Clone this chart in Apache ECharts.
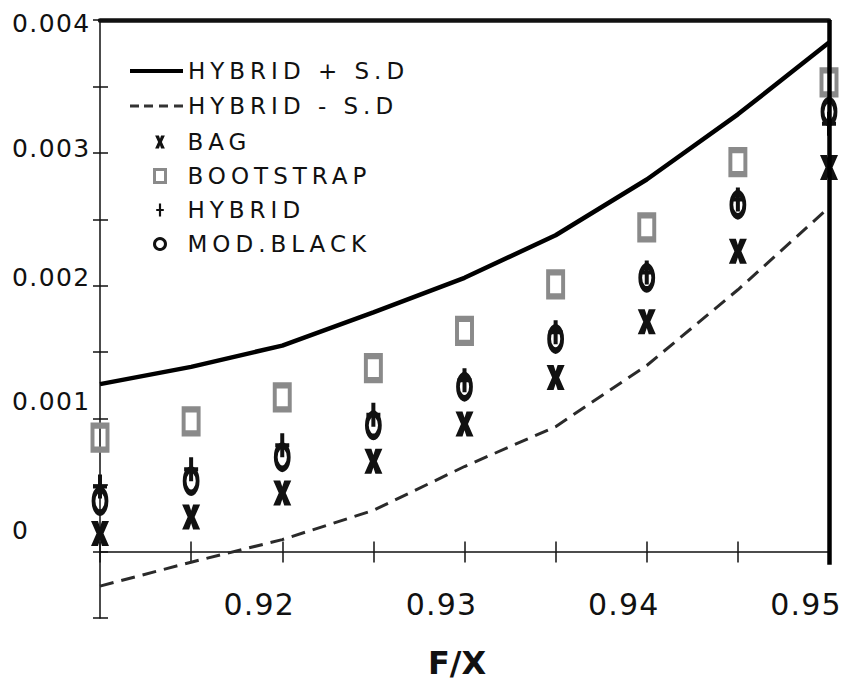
<!DOCTYPE html>
<html>
<head>
<meta charset="utf-8">
<script src="https://cdn.jsdelivr.net/npm/echarts@6/dist/echarts.min.js"></script>
<style>
  html, body { margin: 0; padding: 0; background: #fff; }
  #chart { width: 843px; height: 683px; }
</style>
</head>
<body>
<div id="chart"></div>
<script>
// F/X grid shared by every series
const fx = [0.91, 0.915, 0.92, 0.925, 0.93, 0.935, 0.94, 0.945, 0.95];

// Band around the hybrid estimate
const hybridPlusSD  = [0.00126, 0.00139, 0.00155, 0.00180, 0.00206, 0.00238, 0.00280, 0.00329, 0.00383];
const hybridMinusSD = [-0.00026, -0.00008, 0.00009, 0.00031, 0.00064, 0.00094, 0.00140, 0.00197, 0.00259];

// Point estimates
const bag       = [0.000135, 0.00026, 0.00044, 0.00068, 0.00096, 0.00131, 0.00173, 0.00226, 0.00289];
const bootstrap = [0.000857, 0.00098, 0.00116, 0.00138, 0.00166, 0.00201, 0.00244, 0.00293, 0.00353];
const hybrid    = [0.00049, 0.00062, 0.00080, 0.00103, 0.00129, 0.00165, 0.00210, 0.00265, 0.00322];
const modBlack  = [0.00038, 0.00053, 0.00071, 0.00095, 0.00124, 0.00160, 0.00206, 0.00261, 0.00331];

// Axis text
const xTickLabels = ['0.92', '0.93', '0.94', '0.95'];
const yTickLabels = ['0', '0.001', '0.002', '0.003', '0.004'];
const seriesNames = ['HYBRID + S.D', 'HYBRID - S.D', 'BAG', 'BOOTSTRAP', 'HYBRID', 'MOD.BLACK'];
const xTitle = 'F/X';

const X_MIN = 0.91, X_MAX = 0.95, X_STEP = 0.005;
const Y_MIN = -0.0005, Y_MAX = 0.004, Y_STEP = 0.0005;

const pairs = ys => fx.map((x, i) => [x, ys[i]]);

const FONT = 'DejaVu Sans';
const INK = '#111';
const GREY = '#8a8a8a';

const PLUS_PATH = 'path://M5,0 H9 V10 H14 V14 H9 V24 H5 V14 H0 V10 H5 Z';
const BAG_PATH = 'path://M0,0 H7 L9,6 L11,0 H18 L12.5,12 L18,24 H11 L9,18 L7,24 H0 L5.5,12 Z';
const SOLID_KEY = 'path://M0,0 H53 V4 H0 Z';
const DASH_KEY = 'path://M0,0.5 H9 V3.5 H0 Z M14,0.5 H23 V3.5 H14 Z M29,0.5 H38 V3.5 H29 Z M44,0.5 H53 V3.5 H44 Z';

function xLabel(v) {
  const k = v * 100;
  if (Math.abs(k - Math.round(k)) > 1e-6) return '';
  const s = v.toFixed(2);
  return xTickLabels.includes(s) ? s : '';
}

// Each value label sits a little off its tick; a blank companion line nudges it
const yNudge = ['up', 'up', 'up', 'up', 'down'];
function yLabel(v) {
  const k = v * 1000;
  if (Math.abs(k - Math.round(k)) > 1e-6) return '';
  const i = Math.round(k);
  if (yTickLabels[i] == null) return '';
  const t = '{o' + i + '|' + yTickLabels[i] + '}';
  const b = '{o' + i + '| }';
  return yNudge[i] === 'up' ? t + '\n' + b : b + '\n' + t;
}

const yLabelStyle = { fontFamily: FONT, fontSize: 25, color: INK };
const yRich = {
  o0: Object.assign({ lineHeight: 42 }, yLabelStyle),
  o1: Object.assign({ lineHeight: 34 }, yLabelStyle),
  o2: Object.assign({ lineHeight: 16 }, yLabelStyle),
  o3: Object.assign({ lineHeight: 8 }, yLabelStyle),
  o4: Object.assign({ lineHeight: 6 }, yLabelStyle)
};

const baseX = { type: 'value', min: X_MIN, max: X_MAX, interval: X_STEP, splitLine: { show: false } };
const baseY = { type: 'value', min: Y_MIN, max: Y_MAX, interval: Y_STEP, splitLine: { show: false } };

const chart = echarts.init(document.getElementById('chart'), null, { renderer: 'svg' });

chart.setOption({
  animation: false,
  backgroundColor: '#fff',
  grid: [
    { left: 100, right: 14, top: 20, bottom: 65, containLabel: false, outerBoundsMode: 'none' },
    // carries the F/X tick labels and title beneath the zero line
    { left: 100, right: 14, top: 20, bottom: 131, containLabel: false, outerBoundsMode: 'none' }
  ],
  xAxis: [
    Object.assign({}, baseX, {
      gridIndex: 0, position: 'bottom',
      axisLine: { onZero: true, onZeroAxisIndex: 0, lineStyle: { color: INK, width: 1.5 } },
      axisTick: { show: true, inside: false, length: 11, lineStyle: { color: INK, width: 1.5 } },
      axisLabel: { show: false }
    }),
    Object.assign({}, baseX, {
      gridIndex: 0, position: 'bottom',
      axisLine: { show: false, onZero: true, onZeroAxisIndex: 0 },
      axisTick: { show: true, inside: true, length: 10, lineStyle: { color: INK, width: 1.5 } },
      axisLabel: { show: false }
    }),
    Object.assign({}, baseX, {
      gridIndex: 0, position: 'top',
      axisLine: { show: true, onZero: false, lineStyle: { color: INK, width: 4.5 } },
      axisTick: { show: false },
      axisLabel: { show: false }
    }),
    Object.assign({}, baseX, {
      gridIndex: 1, position: 'bottom',
      axisLine: { show: false, onZero: false },
      axisTick: { show: false },
      axisLabel: {
        formatter: xLabel, margin: 37, fontFamily: FONT, fontSize: 30, color: INK,
        align: 'center', padding: [0, 46, 0, 0], showMinLabel: true, showMaxLabel: true
      },
      name: xTitle, nameLocation: 'middle', nameGap: 95, nameMoveOverlap: false,
      nameTextStyle: { fontFamily: FONT, fontSize: 32, fontWeight: 'bold', color: INK, padding: [0, 15, 0, 0] }
    })
  ],
  yAxis: [
    Object.assign({}, baseY, {
      gridIndex: 0, position: 'left',
      axisLine: { show: true, onZero: false, lineStyle: { color: INK, width: 1.5 } },
      axisTick: { show: true, inside: false, length: 7, lineStyle: { color: INK, width: 1.5 } },
      axisLabel: { formatter: yLabel, margin: 88, align: 'left', rich: yRich, fontFamily: FONT, fontSize: 25, color: INK }
    }),
    Object.assign({}, baseY, {
      gridIndex: 0, position: 'left', offset: 0,
      axisLine: { show: false, onZero: false },
      axisTick: { show: true, inside: true, length: 8, lineStyle: { color: INK, width: 1.5 } },
      axisLabel: { show: false }
    }),
    {
      gridIndex: 1, type: 'value', min: 0, max: 1, show: false
    }
  ],
  legend: [
    {
      orient: 'vertical', left: 130, top: 59, padding: 0,
      itemWidth: 53, itemHeight: 4, itemGap: 11, selectedMode: false,
      textStyle: { fontFamily: FONT, fontSize: 23, color: INK, lineHeight: 24 },
      data: [
        { name: seriesNames[0], icon: SOLID_KEY, itemStyle: { color: '#000', borderWidth: 0 } },
        { name: seriesNames[1], icon: DASH_KEY, itemStyle: { color: '#333', borderWidth: 0 } }
      ]
    },
    {
      orient: 'vertical', left: 153, top: 130, padding: 0,
      itemWidth: 11, itemHeight: 13, itemGap: 10, selectedMode: false,
      textStyle: { fontFamily: FONT, fontSize: 23, color: INK, lineHeight: 24, padding: [0, 0, 0, 17] },
      data: [
        { name: seriesNames[2], icon: BAG_PATH, itemStyle: { color: INK, borderWidth: 0 } },
        { name: seriesNames[3], icon: 'rect', itemStyle: { color: 'rgba(0,0,0,0)', borderColor: GREY, borderWidth: 3 } },
        { name: seriesNames[4], icon: PLUS_PATH, itemStyle: { color: INK, borderWidth: 0 } },
        { name: seriesNames[5], icon: 'circle', itemStyle: { color: 'rgba(0,0,0,0)', borderColor: INK, borderWidth: 3 } }
      ]
    }
  ],
  series: [
    {
      name: seriesNames[0], type: 'line', data: pairs(hybridPlusSD),
      symbol: 'none', clip: false, z: 3,
      lineStyle: { color: '#000', width: 4.5 },
      itemStyle: { color: '#000' },
      // right-hand frame edge, from just under the zero line up to the top
      markLine: {
        silent: true, symbol: 'none', label: { show: false }, animation: false,
        lineStyle: { color: '#000', width: 4.5, type: 'solid' },
        emphasis: { disabled: true },
        data: [[{ coord: [X_MAX, -Y_STEP / 5] }, { coord: [X_MAX, Y_MAX] }]]
      }
    },
    {
      name: seriesNames[1], type: 'line', data: pairs(hybridMinusSD),
      symbol: 'none', clip: false, z: 3,
      lineStyle: { color: '#2a2a2a', width: 3, type: [14, 8] },
      itemStyle: { color: '#2a2a2a' }
    },
    {
      name: seriesNames[2], type: 'scatter', data: pairs(bag),
      symbol: BAG_PATH, symbolSize: [18, 25], z: 4,
      itemStyle: { color: INK, opacity: 1 }
    },
    {
      name: seriesNames[3], type: 'scatter', data: pairs(bootstrap),
      symbol: 'rect', symbolSize: [15, 24], z: 4,
      itemStyle: { color: 'rgba(0,0,0,0)', borderColor: GREY, borderWidth: 5, opacity: 1 }
    },
    {
      name: seriesNames[4], type: 'scatter', data: pairs(hybrid),
      symbol: PLUS_PATH, symbolSize: [14, 24], z: 4,
      itemStyle: { color: INK, opacity: 1 }
    },
    {
      name: seriesNames[5], type: 'scatter', data: pairs(modBlack),
      symbol: 'circle', symbolSize: [13, 23], z: 4,
      itemStyle: { color: 'rgba(0,0,0,0)', borderColor: INK, borderWidth: 5, opacity: 1 }
    }
  ]
});

// Typeset the text with the wide tracking of the original figure
function track() {
  document.querySelectorAll('#chart text').forEach(t => {
    const s = t.textContent.trim();
    if (seriesNames.includes(s)) t.setAttribute('letter-spacing', '5');
    else if (yTickLabels.includes(s)) t.setAttribute('letter-spacing', '1.4');
    else if (xTickLabels.includes(s)) t.setAttribute('letter-spacing', '1.2');
  });
}
chart.on('finished', track);
track();
</script>
</body>
</html>
